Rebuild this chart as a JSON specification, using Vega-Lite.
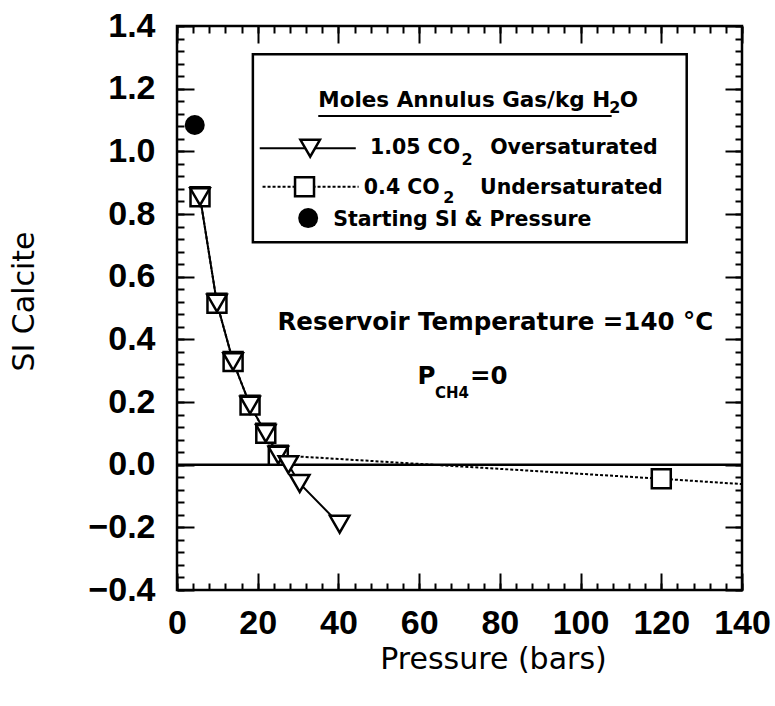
{
  "$schema": "https://vega.github.io/schema/vega-lite/v6.json",
  "width": 565,
  "height": 564,
  "autosize": "none",
  "padding": {"left": 177, "top": 26, "right": 33, "bottom": 116},
  "background": "white",
  "config": {
    "view": {"stroke": "black", "strokeWidth": 2.5},
    "axis": {"grid": false, "domain": false, "labelColor": "black", "tickColor": "black", "titleColor": "black"},
    "text": {"font": "DejaVu Sans", "fontWeight": "bold", "color": "black", "baseline": "middle", "align": "left"}
  },
  "datasets": {
    "pts": [
      {"series": "1.05 CO2 Oversaturated", "pressure": 5.7, "si": 0.855},
      {"series": "1.05 CO2 Oversaturated", "pressure": 9.9, "si": 0.515},
      {"series": "1.05 CO2 Oversaturated", "pressure": 13.9, "si": 0.329},
      {"series": "1.05 CO2 Oversaturated", "pressure": 18.1, "si": 0.19},
      {"series": "1.05 CO2 Oversaturated", "pressure": 22.0, "si": 0.1},
      {"series": "1.05 CO2 Oversaturated", "pressure": 25.1, "si": 0.03},
      {"series": "1.05 CO2 Oversaturated", "pressure": 27.6, "si": 0.0},
      {"series": "1.05 CO2 Oversaturated", "pressure": 30.4, "si": -0.06},
      {"series": "1.05 CO2 Oversaturated", "pressure": 40.3, "si": -0.19},
      {"series": "0.4 CO2 Undersaturated", "pressure": 5.7, "si": 0.855},
      {"series": "0.4 CO2 Undersaturated", "pressure": 9.9, "si": 0.515},
      {"series": "0.4 CO2 Undersaturated", "pressure": 13.9, "si": 0.329},
      {"series": "0.4 CO2 Undersaturated", "pressure": 18.1, "si": 0.19},
      {"series": "0.4 CO2 Undersaturated", "pressure": 22.0, "si": 0.1},
      {"series": "0.4 CO2 Undersaturated", "pressure": 25.1, "si": 0.03},
      {"series": "0.4 CO2 Undersaturated", "pressure": 120, "si": -0.045},
      {"series": "0.4 CO2 Undersaturated", "pressure": 140, "si": -0.062},
      {"series": "Starting SI & Pressure", "pressure": 4.4, "si": 1.084}
    ],
    "one": [{}]
  },
  "resolve": {"axis": {"x": "independent", "y": "independent"}},
  "layer": [
    {
      "data": {"name": "one"},
      "mark": {"type": "rule", "color": "black", "strokeWidth": 2.5},
      "encoding": {"y": {"datum": 0, "type": "quantitative", "scale": {"domain": [-0.4, 1.4], "nice": false, "zero": false}, "axis": null}}
    },
    {
      "data": {"name": "pts"},
      "transform": [{"filter": "datum.series === '0.4 CO2 Undersaturated'"}],
      "mark": {"type": "line", "color": "black", "strokeWidth": 2, "strokeDash": [3, 2]},
      "encoding": {
        "x": {"field": "pressure", "type": "quantitative", "scale": {"domain": [0, 140], "nice": false, "zero": false},
          "axis": {"orient": "bottom", "values": [0, 20, 40, 60, 80, 100, 120, 140], "ticks": false, "tickSize": 0, "labelFlush": false, "labelFont": "Liberation Sans", "labelFontWeight": "bold", "labelFontSize": 34, "labelPadding": 43, "labelBaseline": "alphabetic", "title": "Pressure (bars)", "titleFont": "DejaVu Sans", "titleFontSize": 30, "titleFontWeight": "normal", "titleX": 316, "titleY": 78, "titleBaseline": "alphabetic", "titleAlign": "center"}},
        "y": {"field": "si", "type": "quantitative", "scale": {"domain": [-0.4, 1.4], "nice": false, "zero": false},
          "axis": {"orient": "left", "values": [-0.4, -0.2, 0, 0.2, 0.4, 0.6, 0.8, 1.0, 1.2, 1.4], "format": ".1f", "ticks": false, "tickSize": 0, "labelFlush": false, "labelFont": "Liberation Sans", "labelFontWeight": "bold", "labelFontSize": 34, "labelPadding": 22, "title": "SI Calcite", "titleFont": "DejaVu Sans", "titleFontSize": 30, "titleFontWeight": "normal", "titleX": -144, "titleY": 275, "titleAngle": -90, "titleBaseline": "alphabetic", "titleAlign": "center"}}
      }
    },
    {
      "data": {"name": "pts"},
      "transform": [{"filter": "datum.series === '1.05 CO2 Oversaturated'"}],
      "mark": {"type": "line", "color": "black", "strokeWidth": 2},
      "encoding": {
        "x": {"field": "pressure", "type": "quantitative", "scale": {"domain": [0, 140], "nice": false, "zero": false},
          "axis": {"orient": "bottom", "values": [0, 20, 40, 60, 80, 100, 120, 140], "labels": false, "tickSize": -17, "tickWidth": 2, "title": null}},
        "y": {"field": "si", "type": "quantitative", "scale": {"domain": [-0.4, 1.4], "nice": false, "zero": false},
          "axis": {"orient": "left", "values": [-0.4, -0.2, 0, 0.2, 0.4, 0.6, 0.8, 1.0, 1.2, 1.4], "labels": false, "tickSize": -17, "tickWidth": 2, "title": null}}
      }
    },
    {
      "data": {"name": "pts"},
      "transform": [{"filter": "datum.series === '0.4 CO2 Undersaturated' && datum.pressure < 140"}],
      "mark": {"type": "point", "shape": "square", "size": 360, "filled": true, "fill": "white", "stroke": "black", "strokeWidth": 2.5, "opacity": 1},
      "encoding": {
        "x": {"field": "pressure", "type": "quantitative", "scale": {"domain": [0, 140], "nice": false, "zero": false},
          "axis": {"orient": "top", "values": [0, 20, 40, 60, 80, 100, 120, 140], "labels": false, "tickSize": -17, "tickWidth": 2, "title": null}},
        "y": {"field": "si", "type": "quantitative", "scale": {"domain": [-0.4, 1.4], "nice": false, "zero": false},
          "axis": {"orient": "right", "values": [-0.4, -0.2, 0, 0.2, 0.4, 0.6, 0.8, 1.0, 1.2, 1.4], "labels": false, "tickSize": -17, "tickWidth": 2, "title": null}}
      }
    },
    {
      "data": {"name": "pts"},
      "transform": [{"filter": "datum.series === '1.05 CO2 Oversaturated'"}],
      "mark": {"type": "point", "shape": "triangle-down", "size": 380, "filled": true, "fill": "white", "stroke": "black", "strokeWidth": 2.5, "opacity": 1},
      "encoding": {
        "x": {"field": "pressure", "type": "quantitative", "scale": {"domain": [0, 140], "nice": false, "zero": false},
          "axis": {"orient": "bottom", "values": [0, 4, 8, 12, 16, 20, 24, 28, 32, 36, 40, 44, 48, 52, 56, 60, 64, 68, 72, 76, 80, 84, 88, 92, 96, 100, 104, 108, 112, 116, 120, 124, 128, 132, 136, 140], "labels": false, "tickSize": -7, "tickWidth": 2, "title": null}},
        "y": {"field": "si", "type": "quantitative", "scale": {"domain": [-0.4, 1.4], "nice": false, "zero": false},
          "axis": {"orient": "left", "values": [-0.4, -0.36, -0.32, -0.28, -0.24, -0.2, -0.16, -0.12, -0.08, -0.04, 0, 0.04, 0.08, 0.12, 0.16, 0.2, 0.24, 0.28, 0.32, 0.36, 0.4, 0.44, 0.48, 0.52, 0.56, 0.6, 0.64, 0.68, 0.72, 0.76, 0.8, 0.84, 0.88, 0.92, 0.96, 1.0, 1.04, 1.08, 1.12, 1.16, 1.2, 1.24, 1.28, 1.32, 1.36, 1.4], "labels": false, "tickSize": -7, "tickWidth": 2, "title": null}}
      }
    },
    {
      "data": {"name": "pts"},
      "transform": [{"filter": "datum.series === 'Starting SI & Pressure'"}],
      "mark": {"type": "point", "shape": "circle", "size": 400, "filled": true, "color": "black", "opacity": 1},
      "encoding": {
        "x": {"field": "pressure", "type": "quantitative", "scale": {"domain": [0, 140], "nice": false, "zero": false},
          "axis": {"orient": "top", "values": [0, 4, 8, 12, 16, 20, 24, 28, 32, 36, 40, 44, 48, 52, 56, 60, 64, 68, 72, 76, 80, 84, 88, 92, 96, 100, 104, 108, 112, 116, 120, 124, 128, 132, 136, 140], "labels": false, "tickSize": -7, "tickWidth": 2, "title": null}},
        "y": {"field": "si", "type": "quantitative", "scale": {"domain": [-0.4, 1.4], "nice": false, "zero": false},
          "axis": {"orient": "right", "values": [-0.4, -0.36, -0.32, -0.28, -0.24, -0.2, -0.16, -0.12, -0.08, -0.04, 0, 0.04, 0.08, 0.12, 0.16, 0.2, 0.24, 0.28, 0.32, 0.36, 0.4, 0.44, 0.48, 0.52, 0.56, 0.6, 0.64, 0.68, 0.72, 0.76, 0.8, 0.84, 0.88, 0.92, 0.96, 1.0, 1.04, 1.08, 1.12, 1.16, 1.2, 1.24, 1.28, 1.32, 1.36, 1.4], "labels": false, "tickSize": -7, "tickWidth": 2, "title": null}}
      }
    },
    {
      "data": {"name": "one"},
      "mark": {"type": "rect", "fill": "white", "stroke": "black", "strokeWidth": 2.5},
      "encoding": {
        "x": {"datum": 18.8, "type": "quantitative", "scale": {"domain": [0, 140], "nice": false, "zero": false}, "axis": null},
        "x2": {"datum": 126.3},
        "y": {"datum": 1.31, "type": "quantitative", "scale": {"domain": [-0.4, 1.4], "nice": false, "zero": false}, "axis": null},
        "y2": {"datum": 0.71}
      }
    },
    {
      "data": {"name": "one"},
      "mark": {"type": "rule", "color": "black", "strokeWidth": 2},
      "encoding": {
        "x": {"datum": 35.0, "type": "quantitative", "scale": {"domain": [0, 140], "nice": false, "zero": false}, "axis": null},
        "x2": {"datum": 107.7},
        "y": {"datum": 1.113, "type": "quantitative", "scale": {"domain": [-0.4, 1.4], "nice": false, "zero": false}, "axis": null}
      }
    },
    {
      "data": {"name": "one"},
      "mark": {"type": "rule", "color": "black", "strokeWidth": 2},
      "encoding": {
        "x": {"datum": 20.5, "type": "quantitative", "scale": {"domain": [0, 140], "nice": false, "zero": false}, "axis": null},
        "x2": {"datum": 44.3},
        "y": {"datum": 1.01, "type": "quantitative", "scale": {"domain": [-0.4, 1.4], "nice": false, "zero": false}, "axis": null}
      }
    },
    {
      "data": {"name": "one"},
      "mark": {"type": "point", "shape": "triangle-down", "size": 380, "filled": true, "fill": "white", "stroke": "black", "strokeWidth": 2.5, "opacity": 1},
      "encoding": {
        "x": {"datum": 33.0, "type": "quantitative", "scale": {"domain": [0, 140], "nice": false, "zero": false}, "axis": null},
        "y": {"datum": 1.01, "type": "quantitative", "scale": {"domain": [-0.4, 1.4], "nice": false, "zero": false}, "axis": null}
      }
    },
    {
      "data": {"name": "one"},
      "mark": {"type": "rule", "color": "black", "strokeWidth": 2, "strokeDash": [3, 2]},
      "encoding": {
        "x": {"datum": 21.2, "type": "quantitative", "scale": {"domain": [0, 140], "nice": false, "zero": false}, "axis": null},
        "x2": {"datum": 45.0},
        "y": {"datum": 0.887, "type": "quantitative", "scale": {"domain": [-0.4, 1.4], "nice": false, "zero": false}, "axis": null}
      }
    },
    {
      "data": {"name": "one"},
      "mark": {"type": "point", "shape": "square", "size": 360, "filled": true, "fill": "white", "stroke": "black", "strokeWidth": 2.5, "opacity": 1},
      "encoding": {
        "x": {"datum": 31.6, "type": "quantitative", "scale": {"domain": [0, 140], "nice": false, "zero": false}, "axis": null},
        "y": {"datum": 0.887, "type": "quantitative", "scale": {"domain": [-0.4, 1.4], "nice": false, "zero": false}, "axis": null}
      }
    },
    {
      "data": {"name": "one"},
      "mark": {"type": "point", "shape": "circle", "size": 400, "filled": true, "color": "black", "opacity": 1},
      "encoding": {
        "x": {"datum": 32.5, "type": "quantitative", "scale": {"domain": [0, 140], "nice": false, "zero": false}, "axis": null},
        "y": {"datum": 0.787, "type": "quantitative", "scale": {"domain": [-0.4, 1.4], "nice": false, "zero": false}, "axis": null}
      }
    },
    {
      "data": {"name": "one"},
      "mark": {"type": "text", "text": "Moles Annulus Gas/kg H", "fontSize": 21.5},
      "encoding": {
        "x": {"datum": 35.0, "type": "quantitative", "scale": {"domain": [0, 140], "nice": false, "zero": false}, "axis": null},
        "y": {"datum": 1.162, "type": "quantitative", "scale": {"domain": [-0.4, 1.4], "nice": false, "zero": false}, "axis": null}
      }
    },
    {
      "data": {"name": "one"},
      "mark": {"type": "text", "text": "2", "fontSize": 16},
      "encoding": {
        "x": {"datum": 107.1, "type": "quantitative", "scale": {"domain": [0, 140], "nice": false, "zero": false}, "axis": null},
        "y": {"datum": 1.137, "type": "quantitative", "scale": {"domain": [-0.4, 1.4], "nice": false, "zero": false}, "axis": null}
      }
    },
    {
      "data": {"name": "one"},
      "mark": {"type": "text", "text": "O", "fontSize": 21.5},
      "encoding": {
        "x": {"datum": 109.7, "type": "quantitative", "scale": {"domain": [0, 140], "nice": false, "zero": false}, "axis": null},
        "y": {"datum": 1.162, "type": "quantitative", "scale": {"domain": [-0.4, 1.4], "nice": false, "zero": false}, "axis": null}
      }
    },
    {
      "data": {"name": "one"},
      "mark": {"type": "text", "text": "1.05 CO", "fontSize": 20.5},
      "encoding": {
        "x": {"datum": 47.8, "type": "quantitative", "scale": {"domain": [0, 140], "nice": false, "zero": false}, "axis": null},
        "y": {"datum": 1.01, "type": "quantitative", "scale": {"domain": [-0.4, 1.4], "nice": false, "zero": false}, "axis": null}
      }
    },
    {
      "data": {"name": "one"},
      "mark": {"type": "text", "text": "2", "fontSize": 16},
      "encoding": {
        "x": {"datum": 70.5, "type": "quantitative", "scale": {"domain": [0, 140], "nice": false, "zero": false}, "axis": null},
        "y": {"datum": 0.972, "type": "quantitative", "scale": {"domain": [-0.4, 1.4], "nice": false, "zero": false}, "axis": null}
      }
    },
    {
      "data": {"name": "one"},
      "mark": {"type": "text", "text": "Oversaturated", "fontSize": 20.5},
      "encoding": {
        "x": {"datum": 77.6, "type": "quantitative", "scale": {"domain": [0, 140], "nice": false, "zero": false}, "axis": null},
        "y": {"datum": 1.01, "type": "quantitative", "scale": {"domain": [-0.4, 1.4], "nice": false, "zero": false}, "axis": null}
      }
    },
    {
      "data": {"name": "one"},
      "mark": {"type": "text", "text": "0.4 CO", "fontSize": 20.5},
      "encoding": {
        "x": {"datum": 46.3, "type": "quantitative", "scale": {"domain": [0, 140], "nice": false, "zero": false}, "axis": null},
        "y": {"datum": 0.884, "type": "quantitative", "scale": {"domain": [-0.4, 1.4], "nice": false, "zero": false}, "axis": null}
      }
    },
    {
      "data": {"name": "one"},
      "mark": {"type": "text", "text": "2", "fontSize": 16},
      "encoding": {
        "x": {"datum": 66.0, "type": "quantitative", "scale": {"domain": [0, 140], "nice": false, "zero": false}, "axis": null},
        "y": {"datum": 0.85, "type": "quantitative", "scale": {"domain": [-0.4, 1.4], "nice": false, "zero": false}, "axis": null}
      }
    },
    {
      "data": {"name": "one"},
      "mark": {"type": "text", "text": "Undersaturated", "fontSize": 20.5},
      "encoding": {
        "x": {"datum": 75.1, "type": "quantitative", "scale": {"domain": [0, 140], "nice": false, "zero": false}, "axis": null},
        "y": {"datum": 0.884, "type": "quantitative", "scale": {"domain": [-0.4, 1.4], "nice": false, "zero": false}, "axis": null}
      }
    },
    {
      "data": {"name": "one"},
      "mark": {"type": "text", "text": "Starting SI & Pressure", "fontSize": 20.5},
      "encoding": {
        "x": {"datum": 38.7, "type": "quantitative", "scale": {"domain": [0, 140], "nice": false, "zero": false}, "axis": null},
        "y": {"datum": 0.781, "type": "quantitative", "scale": {"domain": [-0.4, 1.4], "nice": false, "zero": false}, "axis": null}
      }
    },
    {
      "data": {"name": "one"},
      "mark": {"type": "text", "text": "Reservoir Temperature =140 °C", "fontSize": 24.5},
      "encoding": {
        "x": {"datum": 24.9, "type": "quantitative", "scale": {"domain": [0, 140], "nice": false, "zero": false}, "axis": null},
        "y": {"datum": 0.451, "type": "quantitative", "scale": {"domain": [-0.4, 1.4], "nice": false, "zero": false}, "axis": null}
      }
    },
    {
      "data": {"name": "one"},
      "mark": {"type": "text", "text": "P", "fontSize": 24.5},
      "encoding": {
        "x": {"datum": 59.6, "type": "quantitative", "scale": {"domain": [0, 140], "nice": false, "zero": false}, "axis": null},
        "y": {"datum": 0.28, "type": "quantitative", "scale": {"domain": [-0.4, 1.4], "nice": false, "zero": false}, "axis": null}
      }
    },
    {
      "data": {"name": "one"},
      "mark": {"type": "text", "text": "CH4", "fontSize": 15},
      "encoding": {
        "x": {"datum": 63.9, "type": "quantitative", "scale": {"domain": [0, 140], "nice": false, "zero": false}, "axis": null},
        "y": {"datum": 0.228, "type": "quantitative", "scale": {"domain": [-0.4, 1.4], "nice": false, "zero": false}, "axis": null}
      }
    },
    {
      "data": {"name": "one"},
      "mark": {"type": "text", "text": "=0", "fontSize": 24.5},
      "encoding": {
        "x": {"datum": 72.6, "type": "quantitative", "scale": {"domain": [0, 140], "nice": false, "zero": false}, "axis": null},
        "y": {"datum": 0.28, "type": "quantitative", "scale": {"domain": [-0.4, 1.4], "nice": false, "zero": false}, "axis": null}
      }
    }
  ]
}
